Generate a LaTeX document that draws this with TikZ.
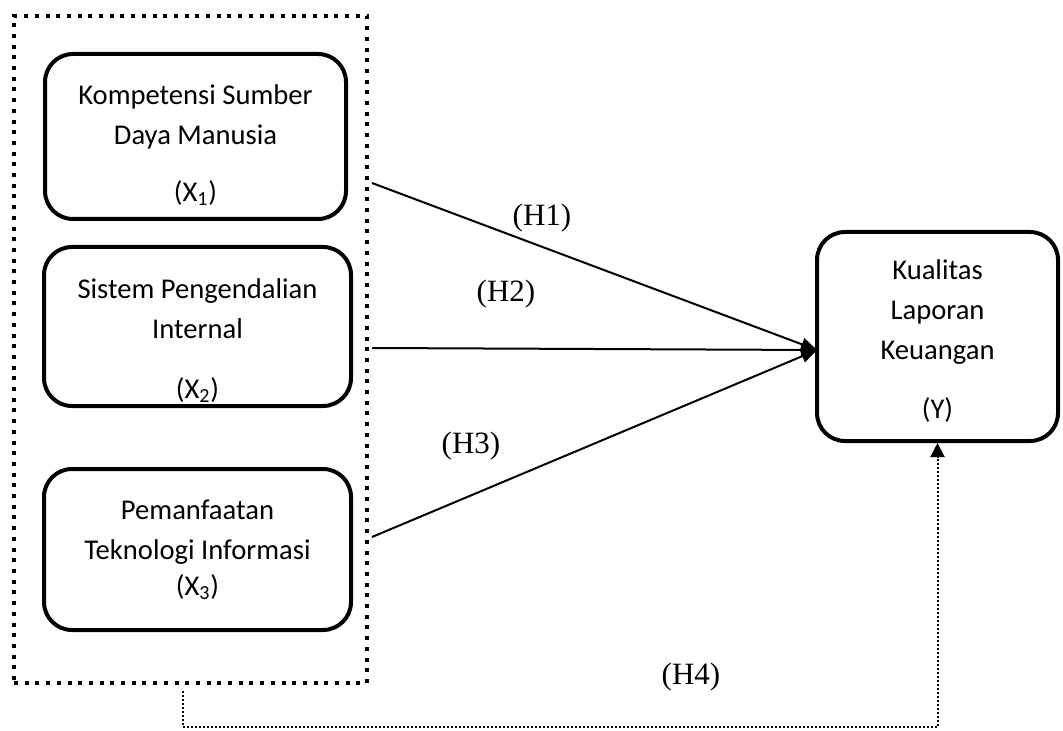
\documentclass[tikz,border=0pt]{standalone}
\usepackage{fontspec}
\setmainfont{Liberation Serif}
\newfontfamily\boxfont{Carlito}
\usetikzlibrary{arrows.meta,positioning}
\newcommand\toppad[1]{\rule{0pt}{#1}}

\begin{document}
\begin{tikzpicture}[x=0.5pt,y=-0.5pt,
  varbox/.style={draw, line width=2pt, rounded corners=14pt, align=center, inner sep=0pt, font=\boxfont\fontsize{14.3}{20}\selectfont},
  grpbox/.style={draw, line width=2pt, dash pattern=on 2pt off 3.35pt, inner sep=0pt},
  hlbl/.style={font=\fontsize{15.5}{18}\selectfont, inner sep=0pt},
  hpath/.style={line width=1pt, -{Triangle[length=8pt,width=6.5pt]}},
  hdot/.style={line width=1pt, dash pattern=on 1pt off 1pt, -{Triangle[length=7pt,width=7pt]}}
]
  \useasboundingbox (0,0) rectangle (1063,731);

  %% Independent variables (dotted group)
  \node[grpbox, minimum width=176.5pt, minimum height=333.5pt] (grp) at (190.5,349.5) {};
  \node[varbox, minimum width=150.5pt, minimum height=82.5pt] (x1) at (195.5,136.5) {\toppad{18.5pt}Kompetensi Sumber\\Daya Manusia\\[8.5pt](X\textsubscript{1})};
  \node[varbox, minimum width=153.5pt, minimum height=79.5pt] (x2) at (197.5,326.5) {\toppad{24pt}Sistem Pengendalian\\Internal\\[10pt](X\textsubscript{2})};
  \node[varbox, minimum width=153.5pt, minimum height=80.5pt] (x3) at (197.5,549.5) {Pemanfaatan\\Teknologi Informasi\\[-2pt](X\textsubscript{3})};

  %% Dependent variable
  \node[varbox, minimum width=120.5pt, minimum height=104.5pt] (yq) at (937.5,336.5) {\toppad{14pt}Kualitas\\Laporan\\Keuangan\\[9.5pt](Y)};

  %% Hypothesis paths
  \coordinate (h1s) at (372,183);
  \coordinate (h2s) at (372,348);
  \coordinate (h3s) at (372,537);
  \coordinate (yin) at (817,350);
  \draw[hpath] (h1s) -- (yin);
  \draw[hpath] (h2s) -- (yin);
  \draw[hpath] (h3s) -- (yin);

  \coordinate (h4s) at (183,691);
  \coordinate (h4c) at (183,727);
  \draw[hdot] (h4s) -- (h4c) -| (yq.south);

  \node[hlbl] (h1) at (542,218) {(H1)};
  \node[hlbl] (h2) at (506,294) {(H2)};
  \node[hlbl] (h3) at (471,446) {(H3)};
  \node[hlbl] (h4) at (691,677) {(H4)};
\end{tikzpicture}
\end{document}
